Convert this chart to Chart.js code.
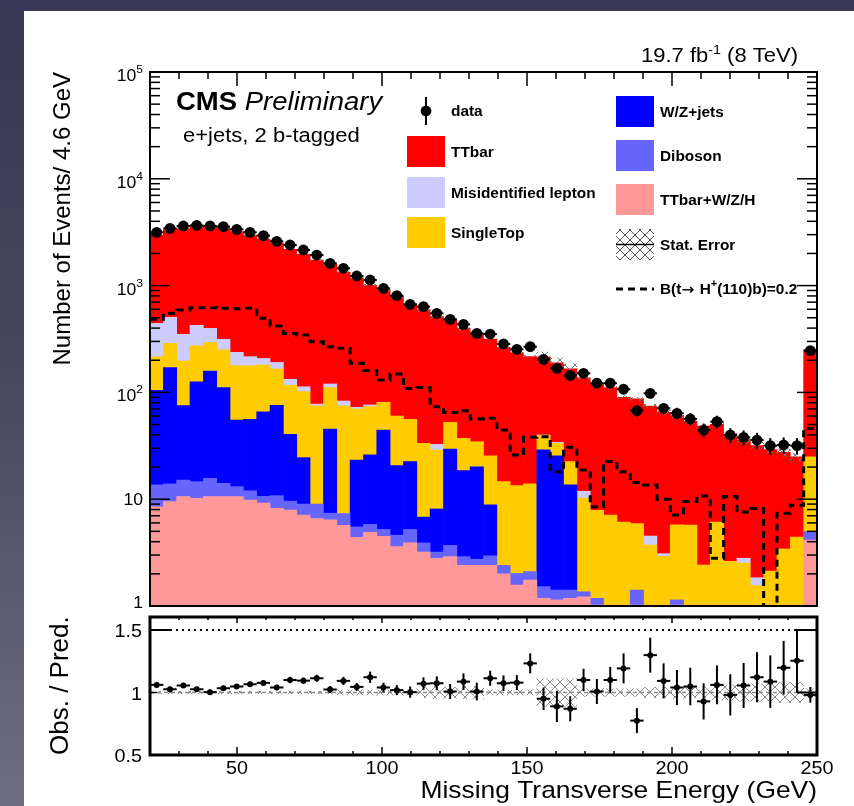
<!DOCTYPE html>
<html>
<head>
<meta charset="utf-8">
<script src="https://cdn.jsdelivr.net/npm/chart.js@4.4.0/dist/chart.umd.min.js"></script>
<style>
  html, body { margin: 0; padding: 0; }
  body {
    width: 854px; height: 806px; overflow: hidden; position: relative;
    background: linear-gradient(to bottom, #383856 0%, #46465f 45%, #6f6d86 100%);
  }
  #panel { position: absolute; left: 24px; top: 11px; width: 830px; height: 795px; background: #fff; }
  #main { position: absolute; left: 0; top: 0; }
  #ratio { position: absolute; left: 0; top: 612px; }
</style>
</head>
<body>
<div id="panel"></div>
<canvas id="main" width="854" height="612"></canvas>
<canvas id="ratio" width="854" height="194"></canvas>
<script>
// binning: 50 bins of 4.6 GeV from 20 to 250
const xLow = 20;
const binW = 4.6;

// stacked backgrounds (events per bin), bottom to top
const ttv = [8.5, 9.5, 10.6, 10.2, 10.6, 10.6, 10.6, 9.8, 9.2, 8.2, 7.9, 7.1, 6.6, 6.4, 5.7, 4.4, 4.9, 4.5, 3.6, 3.9,
  3.2, 2.8, 2.9, 2.4, 2.4, 2.4, 2.0, 1.57, 1.75, 1.18, 1.14, 1.18, 1.22, 1.02, 1.02, 1.02, 1.02, 1.02, 1.02, 1.02,
  1.02, 1.02, 1.02, 1.02, 1.02, 1.02, 1.02, 1.02, 1.02, 4.15];
const diboson = [5.1, 4.4, 4.5, 4.4, 5.1, 3.5, 2.5, 2.2, 1.4, 2.6, 1.7, 1.9, 2.4, 1.0, 1.65, 1.1, 0.9, 0.7, 1.0, 1.3,
  0.7, 0.4, 0.8, 0.5, 0.34, 0.55, 0.4, 0.45, 0.35, 0.34, 0.27, 0.23, 0.14, 0.16, 0, 0, 0.39, 0, 0, 0.12,
  0, 0, 0, 0, 0, 0, 0, 0, 0, 0.82];
const wzjets = [91, 157, 60, 111, 143, 97, 42, 44, 55, 65, 31, 15.5, 0, 38, 0, 17.8, 20.2, 39.3, 16, 17.3,
  2.9, 4.9, 25.8, 15.6, 17.4, 5.9, 0, 0, 0, 27.4, 24, 12.2, 0, 0, 0, 0, 0, 0, 0, 0,
  0, 0, 0, 0, 0, 0, 0, 0, 0, 0];
const singletop = [111, 117, 122, 148, 135, 139, 123, 122, 115, 90, 76, 77.5, 66, 65.6, 67.7, 46.6, 47.6, 36.3, 39.5, 33.5,
  26.5, 20.8, 22.9, 18.7, 14.4, 16.6, 12.2, 11.4, 11.8, 10.4, 7.9, 8.9, 8.9, 6.7, 6.1, 5.1, 4.5, 2.7, 1.9, 4.6,
  4.7, 1.4, 5.1, 1.6, 1.5, 0.53, 1.1, 2.4, 3.4, 20];
const misid = [227, 217, 153, 151, 104, 64, 59, 38, 27, 25, 16, 11, 2.8, 9, 8, 2.6, 2.7, 0, 0, 0,
  0, 3.7, 0, 0, 0, 0, 0, 0, 0, 0.6, 0.8, 0, 1.6, 0, 0, 0, 0, 0.8, 0.17, 0,
  0, 0, 0, 0, 0.28, 0.29, 0, 0, 0, 0];
const ttbar = [2531, 2844, 3072, 3148, 3205, 3132, 2974, 2744, 2518, 2306, 2048, 1854, 1657, 1458, 1245, 1104, 929, 825, 730, 610,
  560, 479, 427, 362, 319, 291, 249, 221, 203, 175, 155, 144, 125, 113, 104, 84, 81, 70, 62, 55,
  48, 46, 44, 38, 33, 30, 27, 24, 20.5, 226];

// observed data
const data = [3155, 3436, 3614, 3666, 3614, 3563, 3365, 3155, 2936, 2597, 2399, 2154, 1933, 1616, 1452, 1230, 1128, 942, 805, 668,
  635, 550, 483, 434, 357, 352, 284, 253, 268, 204, 168, 144, 151, 122, 122, 107, 67.5, 98, 71, 63.7,
  56.4, 44.4, 53.2, 39.9, 37.9, 35.8, 31.7, 32.2, 31.7, 246];
const dataErr = [56, 59, 60, 61, 60, 60, 58, 56, 54, 51, 49, 46, 44, 40, 38, 35, 34, 31, 28, 26,
  25, 23, 22, 21, 19, 19, 17, 16, 16, 14, 13, 12, 12, 11, 11, 10, 8, 10, 8, 8,
  7.5, 6.7, 7.3, 6.3, 6.2, 6, 5.6, 5.7, 5.6, 15.7];

// signal B(t -> H+(110)b) = 0.2
const signal = [483, 550, 591, 621, 621, 612, 608, 612, 494, 419, 357, 345, 298, 268, 259, 187, 160, 131, 149, 109,
  111, 73.5, 65, 67.5, 56.4, 57.2, 44.4, 25.9, 38, 38.5, 18.1, 30.6, 18.8, 8.5, 22.5, 18.1, 14.3, 13.6, 10, 7.1,
  9.5, 10.7, 2.8, 10.6, 7.6, 8.2, 0.5, 7.4, 8.8, 46];

// ratio panel
const ratio = [1.061, 1.026, 1.056, 1.026, 1.003, 1.034, 1.048, 1.066, 1.077, 1.040, 1.10, 1.095, 1.114, 1.024, 1.093, 1.045, 1.122, 1.040, 1.019, 1.003,
  1.071, 1.074, 1.008, 1.087, 1.008, 1.114, 1.074, 1.079, 1.233, 0.950, 0.889, 0.870, 1.10, 1.008, 1.10, 1.193, 0.775, 1.299, 1.093, 1.040,
  1.048, 0.929, 1.061, 0.981, 1.056, 1.122, 1.087, 1.198, 1.254, 0.981];
const ratioErr = [0.02, 0.02, 0.02, 0.02, 0.02, 0.02, 0.02, 0.02, 0.02, 0.022, 0.025, 0.025, 0.028, 0.028, 0.032, 0.032, 0.045, 0.038, 0.04, 0.045,
  0.05, 0.055, 0.06, 0.066, 0.071, 0.06, 0.063, 0.06, 0.08, 0.09, 0.125, 0.10, 0.09, 0.10, 0.105, 0.12, 0.10, 0.14, 0.14, 0.14,
  0.15, 0.145, 0.155, 0.165, 0.18, 0.20, 0.21, 0.215, 0.2, 0.063];
const mcErr = [0.01, 0.01, 0.01, 0.01, 0.01, 0.01, 0.01, 0.01, 0.01, 0.01, 0.01, 0.01, 0.01, 0.01, 0.02, 0.02, 0.02, 0.02, 0.02, 0.02,
  0.04, 0.05, 0.04, 0.05, 0.05, 0.02, 0.02, 0.02, 0.02, 0.11, 0.11, 0.11, 0.03, 0.03, 0.03, 0.03, 0.03, 0.04, 0.04, 0.05,
  0.04, 0.04, 0.06, 0.06, 0.07, 0.07, 0.07, 0.08, 0.08, 0.03];

// axis ticks
const xMajor = [50, 100, 150, 200, 250];
const yDecades = [0, 1, 2, 3, 4, 5];
const ratioTicks = [0.5, 1, 1.5];

const centers = data.map((_, i) => xLow + binW * (i + 0.5));
const edges = data.map((_, i) => xLow + binW * i);

const FONT = "'Liberation Sans', Arial, Helvetica, sans-serif";
const SX = 1.1;

function txt(ctx, s, x, y, font, align) {
  ctx.save();
  ctx.font = font;
  ctx.fillStyle = "#000";
  ctx.textAlign = align || "left";
  ctx.textBaseline = "alphabetic";
  ctx.translate(x, y);
  ctx.scale(SX, 1);
  ctx.fillText(s, 0, 0);
  ctx.restore();
}
function txtW(ctx, s, font) {
  ctx.save();
  ctx.font = font;
  const w = ctx.measureText(s).width * SX;
  ctx.restore();
  return w;
}
function line(ctx, x1, y1, x2, y2) {
  ctx.beginPath();
  ctx.moveTo(x1, y1);
  ctx.lineTo(x2, y2);
  ctx.stroke();
}

function makeHatch(ctx, color) {
  const c = document.createElement("canvas");
  c.width = 10;
  c.height = 10;
  const g = c.getContext("2d");
  g.strokeStyle = color;
  g.lineWidth = 1;
  g.beginPath();
  g.moveTo(0, 0); g.lineTo(10, 10);
  g.moveTo(10, 0); g.lineTo(0, 10);
  g.stroke();
  return ctx.createPattern(c, "repeat");
}

// ---------------- main panel ----------------

const layers = [
  ["TTbar+W/Z/H", ttv, "#ff9999"],
  ["Diboson", diboson, "#6666ff"],
  ["W/Z+jets", wzjets, "#0000ff"],
  ["SingleTop", singletop, "#ffcc00"],
  ["Misidentified lepton", misid, "#ccccff"],
  ["TTbar", ttbar, "#ff0000"],
];

const stackSets = layers.map(([label, vals, color]) => ({
  type: "bar",
  label: label,
  data: vals.map((v, i) => ({ x: centers[i], y: v })),
  backgroundColor: color,
  borderWidth: 0,
  barPercentage: 1,
  categoryPercentage: 1,
  grouped: false,
  xAxisID: "x",
  yAxisID: "y",
}));

// total prediction, used for the stat. error band on top of the stack
const total = ttbar.map((_, i) => layers.reduce((s, l) => s + l[1][i], 0));

const signalPts = edges.map((e, i) => ({ x: e, y: signal[i] }));
signalPts.push({ x: 250, y: signal[signal.length - 1] });

const mainCanvas = document.getElementById("main");

const mainDecor = {
  id: "mainDecor",
  afterDatasetsDraw(chart) {
    const { ctx, chartArea: a, scales } = chart;
    const xs = scales.x, ys = scales.yo;
    ctx.save();
    ctx.strokeStyle = "#000";
    ctx.lineWidth = 2;
    // data error bars
    data.forEach((v, i) => {
      const px = xs.getPixelForValue(centers[i]);
      const py = ys.getPixelForValue(v);
      line(ctx, px, ys.getPixelForValue(v - dataErr[i]), px, ys.getPixelForValue(v + dataErr[i]));
      line(ctx, xs.getPixelForValue(centers[i] - binW / 2), py, xs.getPixelForValue(centers[i] + binW / 2), py);
    });
    // frame
    ctx.strokeRect(a.left, a.top, a.right - a.left, a.bottom - a.top);
    // log ticks
    ctx.lineWidth = 1.5;
    yDecades.forEach((d) => {
      const py = ys.getPixelForValue(Math.pow(10, d));
      line(ctx, a.left, py, a.left + 20, py);
      line(ctx, a.right, py, a.right - 20, py);
      if (d < 5) {
        for (let k = 2; k <= 9; k++) {
          const pm = ys.getPixelForValue(k * Math.pow(10, d));
          line(ctx, a.left, pm, a.left + 10, pm);
          line(ctx, a.right, pm, a.right - 10, pm);
        }
      }
    });
    // x ticks along the top
    for (let t = 30; t < 250; t += 10) {
      const px = xs.getPixelForValue(t);
      line(ctx, px, a.top, px, a.top + (t % 50 === 0 ? 14 : 7));
    }
    ctx.restore();
  },
  afterDraw(chart) {
    const { ctx, chartArea: a, scales } = chart;
    const ys = scales.yo;
    // y tick labels
    yDecades.forEach((d) => {
      const py = ys.getPixelForValue(Math.pow(10, d));
      if (d === 0) {
        txt(ctx, "1", 143, py + 2, "16px " + FONT, "right");
      } else if (d === 1) {
        txt(ctx, "10", 143, py + 6, "16px " + FONT, "right");
      } else {
        const ew = txtW(ctx, String(d), "11px " + FONT);
        txt(ctx, String(d), 143, py + 1, "11px " + FONT, "right");
        txt(ctx, "10", 143 - ew, py + 9, "16px " + FONT, "right");
      }
    });
    // axis title
    ctx.save();
    ctx.translate(70, a.top);
    ctx.rotate(-Math.PI / 2);
    ctx.font = "24px " + FONT;
    ctx.fillStyle = "#000";
    ctx.textAlign = "right";
    ctx.fillText("Number of Events/ 4.6 GeV", 0, 0);
    ctx.restore();

    // luminosity label
    const f20 = "20px " + FONT, f13 = "13px " + FONT;
    const w1 = txtW(ctx, " (8 TeV)", f20);
    txt(ctx, " (8 TeV)", 798, 62, f20, "right");
    const w2 = txtW(ctx, "-1", f13);
    txt(ctx, "-1", 798 - w1, 54, f13, "right");
    txt(ctx, "19.7 fb", 798 - w1 - w2, 62, f20, "right");

    // CMS label
    const fb = "bold 25px " + FONT;
    txt(ctx, "CMS", 176, 110, fb, "left");
    txt(ctx, "Preliminary", 176 + txtW(ctx, "CMS ", fb), 110, "italic 25px " + FONT, "left");
    txt(ctx, "e+jets, 2 b-tagged", 183, 142, "20px " + FONT, "left");

    // legend
    const fl = "bold 14px " + FONT;
    ctx.save();
    ctx.fillStyle = "#000";
    ctx.strokeStyle = "#000";
    ctx.lineWidth = 2;
    line(ctx, 426, 97, 426, 125);
    ctx.beginPath();
    ctx.arc(426, 111, 5.4, 0, Math.PI * 2);
    ctx.fill();
    ctx.restore();
    txt(ctx, "data", 451, 116, fl);

    const boxes = [
      ["TTbar", "#ff0000", 407, 136],
      ["Misidentified lepton", "#ccccff", 407, 177],
      ["SingleTop", "#ffcc00", 407, 217],
      ["W/Z+jets", "#0000ff", 616, 96],
      ["Diboson", "#6666ff", 616, 140],
      ["TTbar+W/Z/H", "#ff9999", 616, 184],
    ];
    boxes.forEach(([label, color, bx, by]) => {
      ctx.fillStyle = color;
      ctx.fillRect(bx, by, 38, 31);
      txt(ctx, label, bx + 44, by + 20.5, fl);
    });
    ctx.save();
    ctx.fillStyle = makeHatch(ctx, "#555");
    ctx.fillRect(616, 229, 38, 31);
    ctx.strokeStyle = "#000";
    ctx.lineWidth = 1.5;
    line(ctx, 616, 244.5, 654, 244.5);
    ctx.setLineDash([7, 5]);
    ctx.lineWidth = 3;
    line(ctx, 616, 289, 654, 289);
    ctx.restore();
    txt(ctx, "Stat. Error", 660, 250, fl);
    let lx = 660;
    txt(ctx, "B(t", lx, 294, fl);
    lx += txtW(ctx, "B(t", fl);
    const fa = "bold 14px 'DejaVu Sans', sans-serif";
    txt(ctx, "\u2192", lx, 294, fa);
    lx += txtW(ctx, "\u2192 ", fa);
    txt(ctx, "H", lx, 294, fl);
    lx += txtW(ctx, "H", fl);
    txt(ctx, "+", lx, 287, "bold 10px " + FONT);
    lx += txtW(ctx, "+", "bold 10px " + FONT);
    txt(ctx, "(110)b)=0.2", lx, 294, fl);
  },
};

const mainChart = new Chart(mainCanvas, {
  type: "bar",
  data: {
    datasets: [
      ...stackSets,
      {
        type: "bar",
        label: "Stat. Error",
        data: total.map((t, i) => ({ x: centers[i], y: [t * (1 - mcErr[i]), t * (1 + mcErr[i])] })),
        backgroundColor: makeHatch(mainCanvas.getContext("2d"), "#777"),
        borderWidth: 0,
        barPercentage: 1,
        categoryPercentage: 1,
        grouped: false,
        xAxisID: "x",
        yAxisID: "yo",
        order: -0.5,
      },
      {
        type: "line",
        label: "signal",
        data: signalPts,
        borderColor: "#000",
        borderWidth: 3,
        borderDash: [7, 5],
        stepped: true,
        pointRadius: 0,
        fill: false,
        xAxisID: "x",
        yAxisID: "yo",
        order: -1,
      },
      {
        type: "line",
        label: "data",
        data: data.map((v, i) => ({ x: centers[i], y: v })),
        showLine: false,
        pointRadius: 5.4,
        pointBackgroundColor: "#000",
        pointBorderWidth: 0,
        xAxisID: "x",
        yAxisID: "yo",
        order: -2,
      },
    ],
  },
  options: {
    responsive: false,
    animation: false,
    layout: { padding: { left: 150, right: 37, top: 72, bottom: 6 } },
    plugins: { legend: { display: false }, tooltip: { enabled: false } },
    scales: {
      x: { type: "linear", min: 20, max: 250, offset: false, stacked: true, display: false },
      y: { type: "logarithmic", min: 1, max: 100000, stacked: true, display: false },
      yo: { type: "logarithmic", min: 1, max: 100000, display: false },
    },
  },
  plugins: [mainDecor],
});

// ---------------- ratio panel ----------------

const ratioCanvas = document.getElementById("ratio");
const hatch = makeHatch(ratioCanvas.getContext("2d"), "#8a8a8a");

const ratioDecor = {
  id: "ratioDecor",
  afterDatasetsDraw(chart) {
    const { ctx, chartArea: a, scales } = chart;
    const xs = scales.x, ys = scales.y;
    ctx.save();
    ctx.strokeStyle = "#000";
    ctx.lineWidth = 2;
    ratio.forEach((v, i) => {
      const px = xs.getPixelForValue(centers[i]);
      const py = ys.getPixelForValue(v);
      line(ctx, px, ys.getPixelForValue(v - ratioErr[i]), px, ys.getPixelForValue(v + ratioErr[i]));
      line(ctx, xs.getPixelForValue(centers[i] - binW / 2), py, xs.getPixelForValue(centers[i] + binW / 2), py);
    });
    ctx.lineWidth = 3;
    ctx.strokeRect(a.left, a.top, a.right - a.left, a.bottom - a.top);
    ctx.lineWidth = 1.5;
    for (let t = 30; t < 250; t += 10) {
      const px = xs.getPixelForValue(t);
      const major = t % 50 === 0;
      line(ctx, px, a.bottom, px, a.bottom - (major ? 8 : 4));
      line(ctx, px, a.top, px, a.top + (major ? 6 : 3));
    }
    ratioTicks.forEach((t) => {
      const py = ys.getPixelForValue(t);
      line(ctx, a.left, py, a.left + 7, py);
    });
    ctx.restore();
  },
  afterDraw(chart) {
    const { ctx, chartArea: a, scales } = chart;
    const xs = scales.x, ys = scales.y;
    const f18 = "18px " + FONT;
    xMajor.forEach((t) => {
      txt(ctx, String(t), xs.getPixelForValue(t), 162, f18, "center");
    });
    ratioTicks.forEach((t) => {
      txt(ctx, String(t), 142, ys.getPixelForValue(t) + 7, f18, "right");
    });
    txt(ctx, "Missing Transverse Energy (GeV)", 817, 186, "24px " + FONT, "right");
    ctx.save();
    ctx.translate(68, a.bottom);
    ctx.rotate(-Math.PI / 2);
    ctx.font = "26px " + FONT;
    ctx.fillStyle = "#000";
    ctx.textAlign = "left";
    ctx.fillText("Obs. / Pred.", 0, 0);
    ctx.restore();
  },
};

const lastCenter = centers[centers.length - 2];

const ratioChart = new Chart(ratioCanvas, {
  type: "bar",
  data: {
    datasets: [
      {
        type: "bar",
        label: "Stat. Error",
        data: mcErr.map((e, i) => ({ x: centers[i], y: [1 - e, 1 + e] })),
        backgroundColor: hatch,
        borderWidth: 0,
        barPercentage: 1,
        categoryPercentage: 1,
        order: 3,
      },
      {
        type: "line",
        label: "unity",
        data: [{ x: 20, y: 1 }, { x: 250, y: 1 }],
        borderColor: "#8a8a8a",
        borderWidth: 1.5,
        borderDash: [4, 3],
        pointRadius: 0,
        order: 2,
      },
      {
        type: "line",
        label: "upper dotted",
        data: [{ x: 26.9, y: 1.5 }, { x: lastCenter, y: 1.5 }],
        borderColor: "#000",
        borderWidth: 2,
        borderDash: [2, 4],
        pointRadius: 0,
        order: 1,
      },
      {
        type: "line",
        label: "upper solid",
        data: [{ x: 20, y: 1.5 }, { x: 26.9, y: 1.5 }, { x: null, y: null },
          { x: lastCenter, y: 1 }, { x: lastCenter, y: 1.5 }, { x: 250, y: 1.5 }, { x: null, y: null },
          { x: lastCenter, y: 1 }, { x: 250, y: 1 }],
        borderColor: "#000",
        borderWidth: 2,
        pointRadius: 0,
        spanGaps: false,
        order: 1,
      },
      {
        type: "line",
        label: "ratio",
        data: ratio.map((v, i) => ({ x: centers[i], y: v })),
        showLine: false,
        pointRadius: 3,
        pointBackgroundColor: "#000",
        pointBorderWidth: 0,
        order: -1,
      },
    ],
  },
  options: {
    responsive: false,
    animation: false,
    layout: { padding: { left: 150, right: 37, top: 5, bottom: 51 } },
    plugins: { legend: { display: false }, tooltip: { enabled: false } },
    scales: {
      x: { type: "linear", min: 20, max: 250, offset: false, display: false },
      y: { type: "linear", min: 0.5, max: 1.604, display: false },
    },
  },
  plugins: [ratioDecor],
});
</script>
</body>
</html>
